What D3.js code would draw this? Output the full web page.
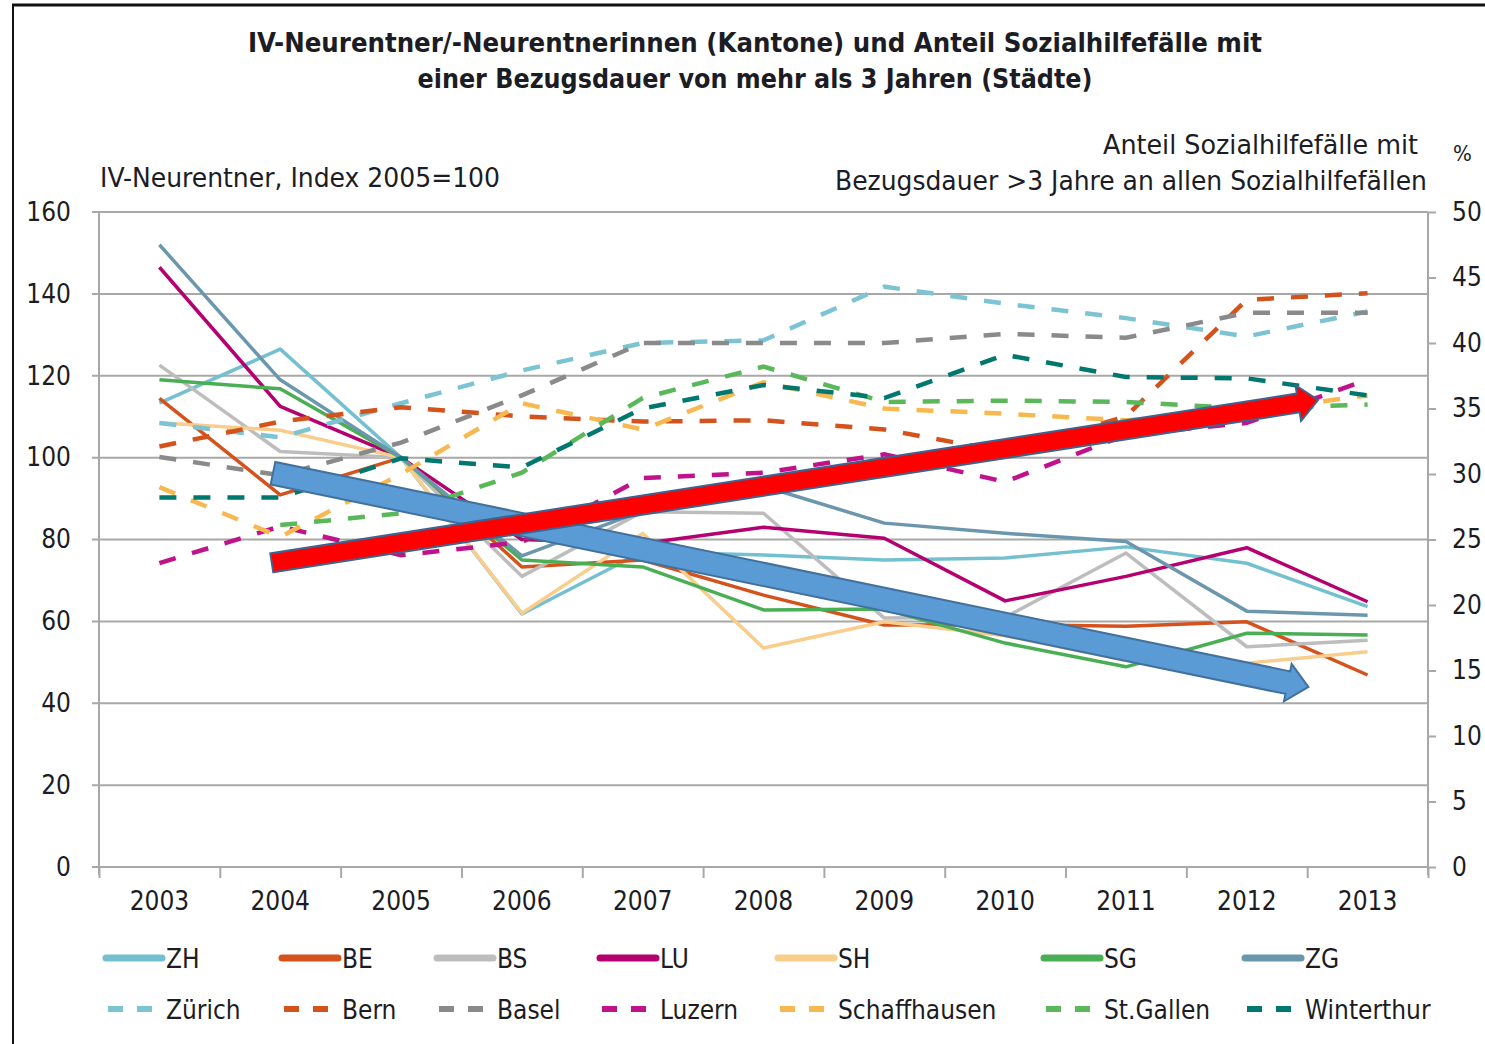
<!DOCTYPE html>
<html><head><meta charset="utf-8">
<script src="https://cdn.jsdelivr.net/npm/d3@7"></script>
<style>
html,body{margin:0;padding:0;background:#fff;}
svg text{font-family:"DejaVu Sans Condensed","Liberation Sans Narrow","Roboto Condensed","DejaVu Sans",sans-serif;fill:#1c1c24;}
</style></head>
<body>
<svg id="c" width="1485" height="1044"></svg>
<script>
// ---------------- data ----------------
const years = [2003,2004,2005,2006,2007,2008,2009,2010,2011,2012,2013];
const leftTicks = [0,20,40,60,80,100,120,140,160];
const rightTicks = [0,5,10,15,20,25,30,35,40,45,50];

// Cantons: IV-Neurentner, Index 2005=100 (left axis)
const ZH = [113.3,126.5,100,61.8,77,76.2,75,75.5,78.2,74.2,63.6];
const BE = [114.5,90.9,100,73.3,75,66.4,59.1,59.2,58.8,59.9,46.9];
const BS = [122.6,101.5,100,71,86.8,86.4,60.8,61,76.7,53.8,55.4];
const LU = [146.5,112.5,100,80,79,83,80.3,65,71,78,64.8];
const SH = [108.5,106.7,100,62,81.5,53.5,59.9,56.5,50.5,49.8,52.6];
const SG = [119,116.8,100,75,73.3,62.8,63,54.7,48.9,57.1,56.7];
const ZG = [152,119,100,76,87,93,84,81.5,79.5,62.5,61.5];

// Cities: share of welfare cases > 3 years, % (right axis)
const Zuerich = [33.9,32.8,35.4,37.9,40,40.2,44.3,43,41.9,40.5,42.4];
const Bern = [32.1,34,35.1,34.4,34,34.1,33.4,31.7,34.4,43.3,43.8];
const Basel = [31.3,29.9,32.4,36,40,40,40,40.7,40.4,42.3,42.3];
const Luzern = [23.2,26,23.8,24.8,29.7,30.1,31.5,29.4,33,33.9,37.2];
const Schaffhausen = [29,25.2,30,35.4,33.4,37,35,34.6,34.1,34.8,36];
const StGallen = [null,26.1,27,30.1,35.8,38.2,35.5,35.6,35.5,35,35.3];
const Winterthur = [28.2,28.2,31.2,30.5,35,36.8,35.8,39.1,37.4,37.3,36];

const solidNames = ["ZH","BE","BS","LU","SH","SG","ZG"];
const dashedNames = ["Zürich","Bern","Basel","Luzern","Schaffhausen","St.Gallen","Winterthur"];

// annotation arrows (year, left-axis value)
const blueArrow = {from:[2003.94,96.2], to:[2012.51,44.0]};
const redArrow  = {from:[2003.93,74.3], to:[2012.59,114.1]};

// ---------------- styling ----------------
const solidSeries = [
  {name:"ZH", v:ZH, c:"#74c0d0"},
  {name:"BE", v:BE, c:"#d4521c"},
  {name:"BS", v:BS, c:"#bdbdbd"},
  {name:"LU", v:LU, c:"#b5006f"},
  {name:"SH", v:SH, c:"#f9cd8c"},
  {name:"SG", v:SG, c:"#4aae55"},
  {name:"ZG", v:ZG, c:"#6b97ae"}
];
const dashedSeries = [
  {name:"Zürich", v:Zuerich, c:"#7cc4d4"},
  {name:"Bern", v:Bern, c:"#d4521c"},
  {name:"Basel", v:Basel, c:"#8a8a8a"},
  {name:"Luzern", v:Luzern, c:"#c0128a"},
  {name:"Schaffhausen", v:Schaffhausen, c:"#f7b94f"},
  {name:"St.Gallen", v:StGallen, c:"#5ab75a"},
  {name:"Winterthur", v:Winterthur, c:"#00786f"}
];

const svg = d3.select("#c");
const L=99, R=1428, T=212, B=867;

// frame
svg.append("line").attr("x1",13).attr("x2",13).attr("y1",5).attr("y2",1044).attr("stroke","#111").attr("stroke-width",2);
svg.append("line").attr("x1",12).attr("x2",1485).attr("y1",5).attr("y2",5).attr("stroke","#111").attr("stroke-width",3);

const x = d3.scaleLinear().domain([2002.5,2013.5]).range([L,R]);
const yL = d3.scaleLinear().domain([0,160]).range([B,T]);
const yR = d3.scaleLinear().domain([0,50]).range([B,T]);

// gridlines
svg.append("g").selectAll("line").data(leftTicks).join("line")
  .attr("x1",L-7).attr("x2",R).attr("y1",d=>yL(d)).attr("y2",d=>yL(d))
  .attr("stroke","#a8a8a8").attr("stroke-width",2);

// left axis
const gL = svg.append("g").attr("transform",`translate(${L},0)`)
  .call(d3.axisLeft(yL).tickValues(leftTicks).tickSize(0).tickPadding(28));
gL.select(".domain").attr("stroke","#a8a8a8").attr("stroke-width",2).attr("d",`M0,${T}V${B+8}`);
gL.selectAll("text").style("font-size","26px").attr("fill","#1c1c24");

// right axis
const gR = svg.append("g").attr("transform",`translate(${R},0)`)
  .call(d3.axisRight(yR).tickValues(rightTicks).tickSize(8).tickPadding(16));
gR.select(".domain").attr("stroke","#a8a8a8").attr("stroke-width",2).attr("d",`M0,${T}V${B+8}`);
gR.selectAll(".tick line").attr("stroke","#a8a8a8").attr("stroke-width",2);
gR.selectAll("text").style("font-size","26px").attr("fill","#1c1c24");

// bottom axis
const bounds = d3.range(2002.5,2014,1);
const gB = svg.append("g").attr("transform",`translate(0,${B})`)
  .call(d3.axisBottom(x).tickValues(bounds).tickSize(11).tickFormat(""));
gB.select(".domain").attr("stroke","#a8a8a8").attr("stroke-width",2).attr("d",`M${L},0H${R}`);
gB.selectAll(".tick line").attr("stroke","#a8a8a8").attr("stroke-width",2);
svg.append("g").selectAll("text").data(years).join("text")
  .attr("x",d=>x(d)).attr("y",910).attr("text-anchor","middle")
  .style("font-size","26px").text(d=>d);

// lines
const lineL = d3.line().defined(d=>d[1]!=null).x(d=>x(d[0])).y(d=>yL(d[1]));
const lineR = d3.line().defined(d=>d[1]!=null).x(d=>x(d[0])).y(d=>yR(d[1]));
const gLines = svg.append("g").attr("fill","none");
solidSeries.forEach(s=>{
  gLines.append("path").attr("d",lineL(years.map((y,i)=>[y,s.v[i]])))
    .attr("stroke",s.c).attr("stroke-width",3.5).attr("stroke-linejoin","round");
});
dashedSeries.forEach(s=>{
  gLines.append("path").attr("d",lineR(years.map((y,i)=>[y,s.v[i]])))
    .attr("stroke",s.c).attr("stroke-width",4.5).attr("stroke-dasharray","17,17");
});

// arrows
function arrowPath(a,w,hw,hl){
  const p0=[x(a.from[0]),yL(a.from[1])], p1=[x(a.to[0]),yL(a.to[1])];
  const dx=p1[0]-p0[0], dy=p1[1]-p0[1], len=Math.hypot(dx,dy);
  const u=[dx/len,dy/len], n=[-u[1],u[0]];
  const b=[p1[0]-u[0]*hl,p1[1]-u[1]*hl];
  const P=(p,k)=>[p[0]+n[0]*k,p[1]+n[1]*k];
  const pts=[P(p0,w/2),P(b,w/2),P(b,hw/2),p1,P(b,-hw/2),P(b,-w/2),P(p0,-w/2)];
  return "M"+pts.map(p=>p.join(",")).join("L")+"Z";
}
svg.append("path").attr("d",arrowPath(blueArrow,23,38,21))
  .attr("fill","#5b9bd5").attr("stroke","#41719c").attr("stroke-width",2);
svg.append("path").attr("d",arrowPath(redArrow,19,36,20))
  .attr("fill","#ff0000").attr("stroke","#3d6390").attr("stroke-width",2);

// titles
svg.append("text").attr("x",755).attr("y",52).attr("text-anchor","middle")
  .style("font-size","27px").style("font-weight","bold")
  .attr("textLength",1014).attr("lengthAdjust","spacingAndGlyphs")
  .text("IV-Neurentner/-Neurentnerinnen (Kantone) und Anteil Sozialhilfefälle mit");
svg.append("text").attr("x",755).attr("y",88).attr("text-anchor","middle")
  .style("font-size","27px").style("font-weight","bold")
  .attr("textLength",675).attr("lengthAdjust","spacingAndGlyphs")
  .text("einer Bezugsdauer von mehr als 3 Jahren (Städte)");
svg.append("text").attr("x",100).attr("y",187).style("font-size","26px")
  .attr("textLength",400).attr("lengthAdjust","spacingAndGlyphs")
  .text("IV-Neurentner, Index 2005=100");
svg.append("text").attr("x",1103).attr("y",154).style("font-size","26px")
  .attr("textLength",315).attr("lengthAdjust","spacingAndGlyphs")
  .text("Anteil Sozialhilfefälle mit");
svg.append("text").attr("x",835).attr("y",190).style("font-size","26px")
  .attr("textLength",592).attr("lengthAdjust","spacingAndGlyphs")
  .text("Bezugsdauer >3 Jahre an allen Sozialhilfefällen");
svg.append("text").attr("x",1453).attr("y",161).style("font-size","22px").text("%");

// legend
const legX = [166,342,497,660,838,1104,1305];
const gLeg = svg.append("g");
solidSeries.forEach((s,i)=>{
  gLeg.append("line").attr("x1",legX[i]-60).attr("x2",legX[i]-4).attr("y1",958).attr("y2",958)
    .attr("stroke",s.c).attr("stroke-width",7).attr("stroke-linecap","round");
  gLeg.append("text").attr("x",legX[i]).attr("y",968).style("font-size","26px").text(s.name);
});
dashedSeries.forEach((s,i)=>{
  gLeg.append("line").attr("x1",legX[i]-58).attr("x2",legX[i]-14).attr("y1",1009).attr("y2",1009)
    .attr("stroke",s.c).attr("stroke-width",6).attr("stroke-dasharray","15,14");
  gLeg.append("text").attr("x",legX[i]).attr("y",1019).style("font-size","26px").text(dashedNames[i]);
});
</script>
</body></html>
